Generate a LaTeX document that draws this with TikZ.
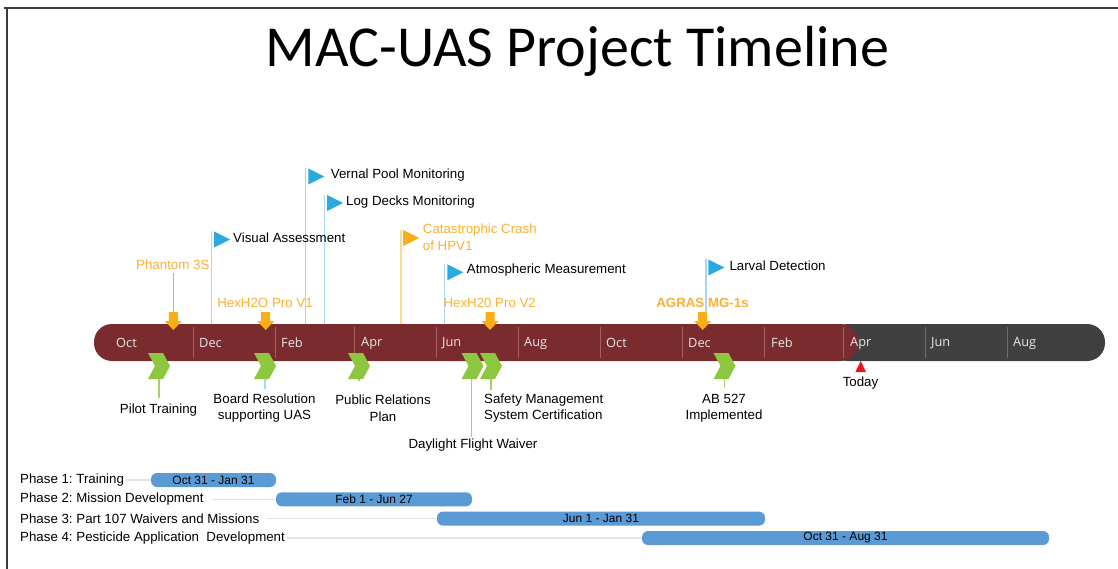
\documentclass[tikz,border=0pt]{standalone}
\usepackage{fontspec}
\setmainfont{Liberation Sans}
\newfontfamily\titlefont{Carlito}
\newfontfamily\monthfont{Open Sans}
\frenchspacing
\definecolor{barred}{HTML}{7A2B2D}
\definecolor{bargray}{HTML}{404040}
\definecolor{sepred}{HTML}{A4605F}
\definecolor{sepgray}{HTML}{6C6C6C}
\definecolor{monthc}{HTML}{E8E8E8}
\definecolor{orangeT}{HTML}{FBB034}
\definecolor{markc}{HTML}{FBAE17}
\definecolor{flagblue}{HTML}{29ABE2}
\definecolor{polec}{HTML}{A7D8F0}
\definecolor{opolec}{HTML}{FDDC8F}
\definecolor{chevg}{HTML}{8DC63F}
\definecolor{glinec}{HTML}{A6D16A}
\definecolor{phblue}{HTML}{5B9BD5}
\definecolor{phline}{HTML}{E3E3E3}
\definecolor{todayred}{HTML}{E8141B}
\definecolor{framec}{HTML}{3A3A3A}
\newcommand\downmark[1]{\fill[markc, shift={(#1,0)}] (-4.5,312) -- (4.5,312) -- (4.5,321) -- (8.5,321) -- (0,330) -- (-8.5,321) -- (-4.5,321) -- cycle;}
\newcommand\chevmark[1]{\fill[chevg, shift={(#1,0)}] (-11,353) -- (4,353) -- (11,366) -- (4,379) -- (-11,379) -- (-4,366) -- cycle;}
\newcommand\flagmark[3]{\fill[#3] (#1+2,#2) -- (#1+2,#2+16) -- (#1+18,#2+8) -- cycle;}
\tikzset{
  lbl/.style={font=\fontsize{13.3}{16.5}\selectfont, inner sep=0, align=center},
  olbl/.style={lbl, text=orangeT},
  flagtxt/.style={lbl, anchor=west},
  month/.style={font=\monthfont\fontsize{12.8}{14}\selectfont, text=monthc, anchor=west, inner sep=0},
  sepr/.style={draw=sepred, line width=0.8},
  sepg/.style={draw=sepgray, line width=0.8},
  bpole/.style={draw=polec, line width=1.2},
  opole/.style={draw=opolec, line width=1.2},
  gline/.style={draw=glinec, line width=1.2},
  phlbl/.style={font=\fontsize{13.3}{15}\selectfont, inner sep=0, anchor=west},
  phbar/.style={fill=phblue, rounded corners=6, minimum height=14, inner sep=0, font=\fontsize{12}{14}\selectfont},
  phl/.style={draw=phline, line width=1.2}
}
\begin{document}
\begin{tikzpicture}[x=1pt,y=-1pt]
\useasboundingbox (0,0) rectangle (1118,569);
\fill[white] (0,0) rectangle (1118,569);
% frame
\draw[framec, line width=2] (4,8) -- (1118,8);
\draw[framec, line width=2] (7,8) -- (7,569);
% title
\node[font=\titlefont\fontsize{58}{60}\selectfont, anchor=base, inner sep=0] (title) at (577.5,67) {MAC-UAS Project Timeline};

% poles
\coordinate (pva) at (211.7,231); \coordinate (pvab) at (211.7,324);
\coordinate (pvp) at (305.3,168); \coordinate (pvpb) at (305.3,324);
\coordinate (pld) at (324.3,195); \coordinate (pldb) at (324.3,324);
\coordinate (pcc) at (401,230);   \coordinate (pccb) at (401,324);
\coordinate (pam) at (444.5,264); \coordinate (pamb) at (444.5,324);
\coordinate (pld2) at (706,259);  \coordinate (pld2b) at (706,324);
\draw[bpole] (pva) -- (pvab);
\draw[bpole] (pvp) -- (pvpb);
\draw[bpole] (pld) -- (pldb);
\draw[opole] (pcc) -- (pccb);
\draw[bpole] (pam) -- (pamb);
\draw[bpole] (pld2) -- (pld2b);
\flagmark{212}{231.5}{flagblue}
\flagmark{306.3}{168.5}{flagblue}
\flagmark{325}{195}{flagblue}
\flagmark{401}{230}{markc}
\flagmark{445.3}{264.3}{flagblue}
\flagmark{706.3}{259.5}{flagblue}
\node[flagtxt] (va) at (233,238) {Visual Assessment};
\node[flagtxt] (vp) at (330.7,175) {Vernal Pool Monitoring};
\node[flagtxt] (ld) at (346,202.3) {Log Decks Monitoring};
\node[flagtxt, text=orangeT, align=left] (cc) at (422.7,237) {Catastrophic Crash\\of HPV1};
\node[flagtxt] (am) at (466.7,270) {Atmospheric Measurement};
\node[flagtxt] (lv) at (729.3,265.7) {Larval Detection};

% green connector lines
\coordinate (gpt) at (159,379);   \coordinate (gptb) at (159,398);
\coordinate (gbr) at (265,379);   \coordinate (gbrb) at (265,389);
\coordinate (gpr) at (359,379);   \coordinate (gprb) at (359,380.5);
\coordinate (gdf) at (471.7,379); \coordinate (gdfb) at (471.7,437);
\coordinate (gsm) at (491,379);   \coordinate (gsmb) at (491,390);
\coordinate (gab) at (724.3,379); \coordinate (gabb) at (724.3,388);
\draw[gline] (gpt) -- (gptb);
\draw[bpole] (gbr) -- (gbrb);
\draw[gline] (gpr) -- (gprb);
\draw[gline] (gdf) -- (gdfb);
\draw[gline] (gsm) -- (gsmb);
\draw[gline] (gab) -- (gabb);

% bar
\fill[bargray, rounded corners=18] (830,324) rectangle (1105,361);
\fill[barred, rounded corners=18] (94,324) rectangle (858,361);
\foreach \sx in {193,275.5,354.5,436.5,518,600,682,764.5,843.5}{\draw[sepr] (\sx,327) -- (\sx,358);}
\foreach \sx in {925.5,1007.5}{\draw[sepg] (\sx,327) -- (\sx,358);}
\node[month] (m1) at (116,343) {Oct};
\node[month] (m2) at (199,343) {Dec};
\node[month] (m3) at (281,343) {Feb};
\node[month] (m4) at (361,343) {Apr};
\node[month] (m5) at (442,343) {Jun};
\node[month] (m6) at (524,343) {Aug};
\node[month] (m7) at (606,343) {Oct};
\node[month] (m8) at (688,343) {Dec};
\node[month] (m9) at (771,343) {Feb};
\node[month] (m10) at (850,343) {Apr};
\node[month] (m11) at (931,343) {Jun};
\node[month] (m12) at (1013,343) {Aug};

% orange markers
\coordinate (ph3a) at (173.3,273); \coordinate (ph3b) at (173.3,312);
\draw[draw=markc, line width=1] (ph3a) -- (ph3b);
\downmark{173.3}
\downmark{265.7}
\downmark{490}
\downmark{702.7}
\node[olbl] (p3s) at (172.8,264.3) {Phantom 3S};
\node[olbl] (hx1) at (265,303.3) {HexH2O Pro V1};
\node[olbl] (hx2) at (489.7,303.3) {HexH20 Pro V2};
\node[olbl, font=\bfseries\fontsize{13.3}{16.5}\selectfont] (ag) at (702.5,303.3) {AGRAS MG-1s};

% chevrons
\chevmark{159}
\chevmark{265}
\chevmark{359}
\chevmark{472.5}
\chevmark{491}
\chevmark{724.5}
\node[lbl] (pt) at (158.5,410) {Pilot Training};
\node[lbl] (br) at (264.5,408.3) {Board Resolution\\supporting UAS};
\node[lbl] (pr) at (383,408.3) {Public Relations\\Plan};
\node[lbl] (df) at (473,445) {Daylight Flight Waiver};
\node[lbl, anchor=west, align=left] (sm) at (484,408.3) {Safety Management\\System Certification};
\node[lbl] (ab) at (724,408.3) {AB 527\\Implemented};

% today
\fill[todayred] (860.7,361) -- (866,372) -- (855.4,372) -- cycle;
\node[lbl] (today) at (860.5,383) {Today};

% phases
\node[phlbl] (ph1) at (20,480) {Phase 1: Training};
\node[phlbl] (ph2) at (20,499.3) {Phase 2: Mission Development};
\node[phlbl] (ph3) at (20,518.6) {Phase 3: Part 107 Waivers and Missions};
\node[phlbl] (ph4) at (20,538) {Phase 4: Pesticide Application\ \ Development};
\node[phbar, minimum width=125] (pb1) at (213.5,480) {Oct 31 - Jan 31};
\node[phbar, minimum width=196] (pb2) at (374,499.3) {Feb 1 - Jun 27};
\node[phbar, minimum width=328] (pb3) at (601,518.6) {Jun 1 - Jan 31};
\node[phbar, minimum width=407] (pb4) at (845.5,538) {Oct 31 - Aug 31};
\draw[phl] ([xshift=2pt]ph1.east) -- (pb1.west);
\draw[phl] ([xshift=8pt]ph2.east) -- (pb2.west);
\draw[phl] ([xshift=8pt]ph3.east) -- (pb3.west);
\draw[phl] ([xshift=2pt]ph4.east) -- (pb4.west);
\end{tikzpicture}
\end{document}
